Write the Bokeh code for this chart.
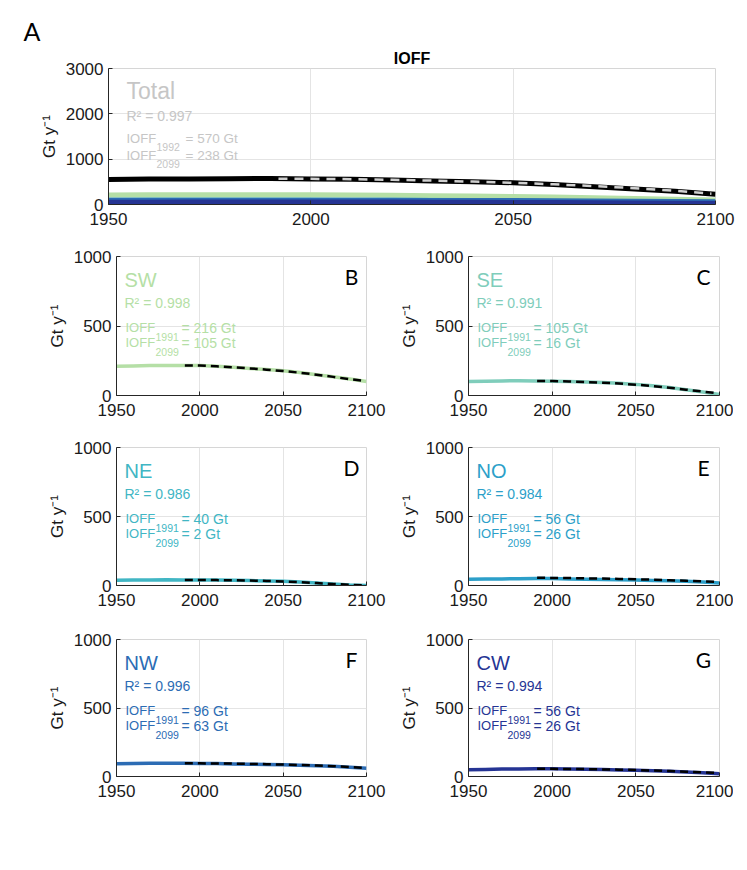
from bokeh.plotting import figure
from bokeh.layouts import column, row
from bokeh.models import Range1d, Label, FixedTicker, Title
from bokeh.embed import file_html
from bokeh.resources import INLINE

# ---------------- data ----------------
years = [1950, 1960, 1970, 1980, 1990, 2000, 2010, 2020, 2030, 2040, 2050, 2060, 2070, 2080, 2090, 2100]
fit_years_total = [1992, 2000, 2010, 2020, 2030, 2040, 2050, 2060, 2070, 2080, 2090, 2099]
fit_years = [1991, 2000, 2010, 2020, 2030, 2040, 2050, 2060, 2070, 2080, 2090, 2099]

total = [550, 560, 565, 570, 572, 565, 555, 540, 520, 500, 480, 440, 390, 340, 290, 225]
total_fit = [570, 567, 558, 545, 527, 505, 478, 445, 405, 360, 305, 238]

sw = [210, 213, 215, 216, 216, 215, 210, 203, 195, 187, 178, 165, 150, 135, 118, 100]
sw_fit = [216, 215, 210, 203, 195, 186, 176, 164, 150, 134, 117, 105]
se = [100, 103, 105, 106, 105, 103, 100, 97, 93, 88, 80, 70, 58, 42, 25, 8]
se_fit = [105, 104, 101, 97, 92, 86, 78, 68, 56, 42, 28, 16]
ne = [38, 40, 40, 41, 40, 40, 39, 38, 36, 33, 30, 25, 18, 10, 4, 0]
ne_fit = [40, 40, 39, 38, 36, 33, 29, 24, 18, 11, 5, 2]
no = [45, 47, 48, 49, 50, 50, 48, 46, 44, 42, 40, 37, 34, 30, 25, 18]
no_fit = [56, 55, 54, 52, 50, 48, 45, 42, 38, 34, 30, 26]
nw = [93, 95, 96, 96, 96, 95, 94, 92, 90, 88, 86, 83, 79, 74, 68, 60]
nw_fit = [96, 96, 95, 94, 92, 90, 87, 84, 80, 75, 69, 63]
cw = [50, 52, 54, 55, 56, 56, 55, 53, 51, 48, 45, 42, 38, 33, 27, 20]
cw_fit = [56, 56, 55, 54, 52, 50, 47, 44, 40, 35, 30, 26]

regions = ["SW", "SE", "NE", "NO", "NW", "CW"]
letters = ["B", "C", "D", "E", "F", "G"]
r2_values = ["0.998", "0.991", "0.986", "0.984", "0.996", "0.994"]
ioff_start = ["216", "105", "40", "56", "96", "56"]
ioff_end = ["105", "16", "2", "26", "63", "26"]
start_years = ["1991"] * 6
series = [sw, se, ne, no, nw, cw]
fits = [sw_fit, se_fit, ne_fit, no_fit, nw_fit, cw_fit]
colors = ["#b5dfa6", "#7fcdbb", "#41b6c4", "#2c9fc9", "#2c6cb4", "#253494"]

total_r2 = "0.997"
total_start_year = "1992"
total_start = "570"
total_end = "238"

FONT = "Liberation Sans"
LETTER_FONT = "Lato"
X_TICKS = [1950, 2000, 2050, 2100]


def make_fig(fw, fh, bl, br, bt, bb, ymax, yticks):
    p = figure(frame_width=fw, frame_height=fh,
               min_border_left=bl, min_border_right=br,
               min_border_top=bt, min_border_bottom=bb,
               x_range=Range1d(1950, 2100), y_range=Range1d(0, ymax),
               output_backend="svg", toolbar_location=None)
    p.background_fill_color = "white"
    p.border_fill_color = "white"
    p.outline_line_color = "#d6d6d6"
    p.outline_line_width = 1
    for ax in (p.xaxis[0], p.yaxis[0]):
        ax.axis_line_color = "#262626"
        ax.major_tick_line_color = "#262626"
        ax.major_tick_in = 4
        ax.major_tick_out = 0
        ax.minor_tick_line_color = None
        ax.major_label_text_font = FONT
        ax.major_label_text_font_size = "17px"
        ax.major_label_text_color = "#1a1a1a"
    p.xaxis.ticker = FixedTicker(ticks=X_TICKS)
    p.yaxis.ticker = FixedTicker(ticks=yticks)
    p.yaxis.axis_label = "Gt y\u207b\u00b9"
    p.yaxis.axis_label_text_font = FONT
    p.yaxis.axis_label_text_font_style = "normal"
    p.yaxis.axis_label_text_font_size = "17px"
    p.yaxis.axis_label_text_color = "#1a1a1a"
    p.yaxis.axis_label_standoff = 4
    p.xaxis.major_label_standoff = 8
    p.yaxis.major_label_standoff = 5
    p.grid.grid_line_color = "#e4e4e4"
    p.grid.grid_line_width = 1
    return p


def pos(fw, fh, ymax, dx, dy):
    # convert pixel offsets from the frame's top-left corner to data coords
    return 1950 + dx / fw * 150.0, ymax * (fh - dy) / fh


def add_text(p, fw, fh, ymax, dx, dy, text, size, color, font=FONT, align="left"):
    x, y = pos(fw, fh, ymax, dx, dy)
    p.add_layout(Label(x=x, y=y, text=text, text_font=font, text_font_size=size,
                       text_color=color, text_align=align, text_baseline="middle"))


# ---------------- top panel ----------------
TW, TH = 607, 136
top = make_fig(TW, TH, 108, 20, 68, 43, 3000, [0, 1000, 2000, 3000])
top.add_layout(Title(text="IOFF", align="center", text_font=FONT, text_font_size="16px",
                     text_font_style="bold", text_color="#000000", standoff=4), "above")
top.add_layout(Title(text="A", align="left", offset=-85, text_font=LETTER_FONT,
                     text_font_size="25px", text_font_style="normal",
                     text_color="#000000", standoff=0), "above")

for s, c in zip(series, colors):
    top.line(years, s, line_color=c, line_width=5)
top.line(years, total, line_color="black", line_width=5)
top.line(fit_years_total, total_fit, line_color="#cfcfcf", line_width=2.5, line_dash="9 7")

gray = "#c6c6c6"
add_text(top, TW, TH, 3000, 18, 22, "Total", "23px", gray)
add_text(top, TW, TH, 3000, 18, 47, "R\u00b2 = " + total_r2, "14px", gray)
add_text(top, TW, TH, 3000, 18, 70, "IOFF", "13px", gray)
add_text(top, TW, TH, 3000, 48, 78, total_start_year, "10.5px", gray)
add_text(top, TW, TH, 3000, 77, 70, "= " + total_start + " Gt", "13.5px", gray)
add_text(top, TW, TH, 3000, 18, 87, "IOFF", "13px", gray)
add_text(top, TW, TH, 3000, 48, 95, "2099", "10.5px", gray)
add_text(top, TW, TH, 3000, 77, 87, "= " + total_end + " Gt", "13.5px", gray)

# ---------------- regional panels ----------------
SW_ = [250, 251]
SH_ = [139, 138, 137]
layout_specs = [
    # (border_left, border_right, border_top, border_bottom)
    (116, 30, 9, 44), (69, 14, 9, 44),
    (116, 30, 8, 46), (69, 14, 8, 46),
    (116, 30, 8, 30), (69, 14, 8, 30),
]
figs = []
for i in range(6):
    bl, br, bt, bb = layout_specs[i]
    fw = SW_[i % 2]
    fh = SH_[i // 2]
    p = make_fig(fw, fh, bl, br, bt, bb, 1000, [0, 500, 1000])
    c = colors[i]
    p.line(years, series[i], line_color=c, line_width=3.5)
    p.line(fit_years, fits[i], line_color="black", line_width=2.5, line_dash="8 5")
    add_text(p, fw, fh, 1000, 8, 23, regions[i], "20px", c)
    add_text(p, fw, fh, 1000, 8, 46, "R\u00b2 = " + r2_values[i], "14px", c)
    add_text(p, fw, fh, 1000, 9, 71, "IOFF", "13px", c)
    add_text(p, fw, fh, 1000, 39, 80, start_years[i], "10.5px", c)
    add_text(p, fw, fh, 1000, 65, 71, "= " + ioff_start[i] + " Gt", "14px", c)
    add_text(p, fw, fh, 1000, 9, 86, "IOFF", "13px", c)
    add_text(p, fw, fh, 1000, 39, 95, "2099", "10.5px", c)
    add_text(p, fw, fh, 1000, 65, 86, "= " + ioff_end[i] + " Gt", "14px", c)
    add_text(p, fw, fh, 1000, 235, 20, letters[i], "21px", "#000000", font=LETTER_FONT, align="center")
    figs.append(p)

layout = column(top, row(figs[0], figs[1]), row(figs[2], figs[3]), row(figs[4], figs[5]))

open("out.html", "w").write(file_html(layout, INLINE))
